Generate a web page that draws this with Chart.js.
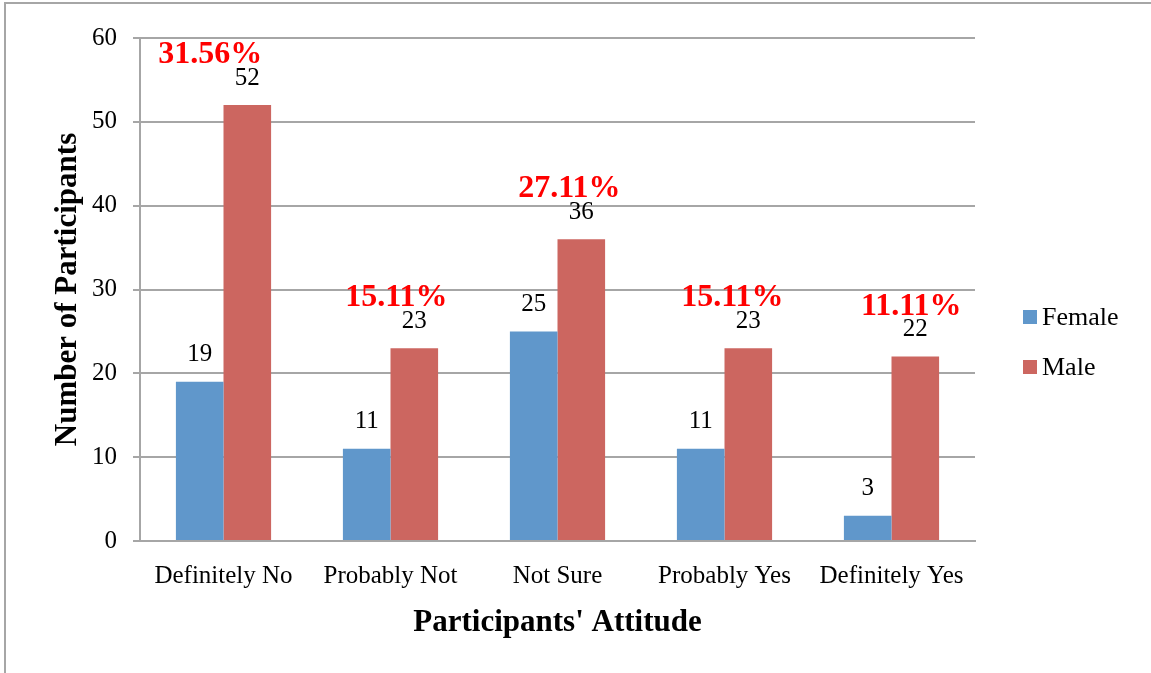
<!DOCTYPE html>
<html>
<head>
<meta charset="utf-8">
<script src="https://cdn.jsdelivr.net/npm/chart.js@4/dist/chart.umd.min.js"></script>
<style>
  html, body { margin: 0; padding: 0; background: #fff; }
  #wrap { position: relative; width: 1151px; height: 673px; }
  #frame { position: absolute; left: 4px; top: 2px; right: 0; bottom: 0; border-left: 2px solid #a6a6a6; border-top: 2px solid #a6a6a6; pointer-events: none; }
</style>
</head>
<body>
<div id="wrap">
  <canvas id="attitudeChart" width="1151" height="673"></canvas>
  <div id="frame"></div>
</div>
<script>
var categories = ['Definitely No', 'Probably Not', 'Not Sure', 'Probably Yes', 'Definitely Yes'];
var female = [19, 11, 25, 11, 3];
var male = [52, 23, 36, 23, 22];
var percentLabels = ['31.56%', '15.11%', '27.11%', '15.11%', '11.11%'];
var yTicks = [0, 10, 20, 30, 40, 50, 60];

// nudges for the percent text boxes (px, left of the male bar centre)
var pctNudge = [-37, -18, -12, -16, -4];

var SERIF = '"Liberation Serif", "Times New Roman", serif';
var GRID = '#a6a6a6';

var labelsPlugin = {
  id: 'barLabels',
  afterDatasetsDraw: function(chart) {
    var ctx = chart.ctx;
    ctx.save();
    ctx.textAlign = 'center';
    ctx.textBaseline = 'middle';
    chart.data.datasets.forEach(function(ds, di) {
      chart.getDatasetMeta(di).data.forEach(function(bar, i) {
        ctx.fillStyle = '#000';
        ctx.font = '25px ' + SERIF;
        ctx.fillText(String(ds.data[i]), bar.x, bar.y - 27);
      });
    });
    var maleMeta = chart.getDatasetMeta(1);
    ctx.fillStyle = '#ff0000';
    ctx.font = 'bold 32px ' + SERIF;
    maleMeta.data.forEach(function(bar, i) {
      ctx.fillText(percentLabels[i], bar.x + pctNudge[i], bar.y - 50);
    });
    ctx.restore();
  }
};

var legendPlugin = {
  id: 'sideLegend',
  afterDraw: function(chart) {
    var ctx = chart.ctx;
    ctx.save();
    ctx.font = '26px ' + SERIF;
    ctx.textBaseline = 'middle';
    ctx.textAlign = 'left';
    chart.data.datasets.forEach(function(ds, i) {
      var y = 317 + i * 50;
      ctx.fillStyle = ds.backgroundColor;
      ctx.fillRect(1023, y - 7, 14, 14);
      ctx.fillStyle = '#000';
      ctx.fillText(ds.label, 1042, y + 1);
    });
    ctx.restore();
  }
};

new Chart(document.getElementById('attitudeChart'), {
  type: 'bar',
  data: {
    labels: categories,
    datasets: [
      { label: 'Female', data: female, backgroundColor: '#6097cb' },
      { label: 'Male', data: male, backgroundColor: '#cc6660' }
    ]
  },
  options: {
    responsive: false,
    animation: false,
    layout: { padding: { top: 38, right: 176, left: 0, bottom: 0 } },
    datasets: { bar: { categoryPercentage: 0.57, barPercentage: 1.0 } },
    plugins: { legend: { display: false }, tooltip: { enabled: false } },
    scales: {
      x: {
        grid: { display: false, drawTicks: false },
        border: { color: GRID, width: 2 },
        ticks: { color: '#000', font: { family: SERIF, size: 25 }, padding: 20, maxRotation: 0 },
        title: { display: true, text: "Participants' Attitude", color: '#000',
                 font: { family: SERIF, size: 31, weight: 'bold' }, padding: { top: 0, bottom: 31 } },
        afterFit: function(s) { s.height = 132; }
      },
      y: {
        min: 0, max: 60,
        afterBuildTicks: function(s) { s.ticks = yTicks.map(function(v) { return { value: v }; }); },
        grid: { color: GRID, lineWidth: 2, tickLength: 7 },
        border: { color: GRID, width: 2 },
        ticks: { color: '#000', font: { family: SERIF, size: 25 }, padding: 16 },
        title: { display: true, text: 'Number of Participants', color: '#000',
                 font: { family: SERIF, size: 31, weight: 'bold' }, padding: { top: 49, bottom: 0 } },
        afterFit: function(s) { s.width = 140; }
      }
    }
  },
  plugins: [labelsPlugin, legendPlugin]
});
</script>
</body>
</html>
